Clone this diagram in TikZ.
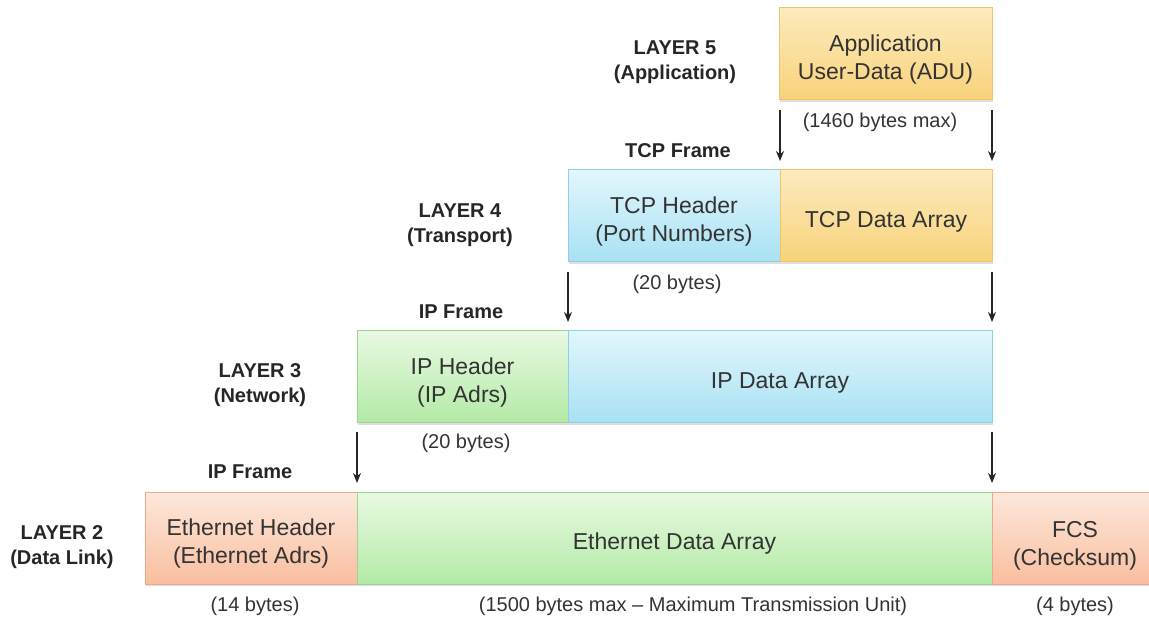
\documentclass[tikz,border=0pt]{standalone}
\usepackage{fontspec}
\setmainfont{Liberation Sans}
\usetikzlibrary{arrows.meta,shadows}
\definecolor{orT}{HTML}{FCEBBE}
\definecolor{orB}{HTML}{F8D27A}
\definecolor{orD}{HTML}{EFC567}
\definecolor{blT}{HTML}{E2F6FC}
\definecolor{blB}{HTML}{A8E1F4}
\definecolor{blD}{HTML}{8CCFE6}
\definecolor{grT}{HTML}{E9F9E3}
\definecolor{grB}{HTML}{B3EAA6}
\definecolor{grD}{HTML}{9BD68E}
\definecolor{saT}{HTML}{FDE8DC}
\definecolor{saB}{HTML}{F9BE9F}
\definecolor{saD}{HTML}{EDA889}
\definecolor{txt}{HTML}{333333}
\tikzset{
  box/.style={rectangle, anchor=north west, inner sep=0pt, outer sep=0pt,
    minimum height=92pt, line width=1pt,
    drop shadow={shadow xshift=1pt, shadow yshift=-2pt, opacity=0.25}},
  orbox/.style={box, draw=orD, top color=orT, bottom color=orB},
  blbox/.style={box, draw=blD, top color=blT, bottom color=blB},
  grbox/.style={box, draw=grD, top color=grT, bottom color=grB},
  sabox/.style={box, draw=saD, top color=saT, bottom color=saB},
  boxtext/.style={align=center, text=txt, inner sep=0pt, font=\fontsize{23}{28}\selectfont},
  layer/.style={align=center, font=\bfseries\fontsize{20}{25.5}\selectfont, text=black!85},
  frame/.style={font=\bfseries\fontsize{20}{22}\selectfont, text=black!85},
  bytes/.style={font=\fontsize{20}{22}\selectfont, text=txt},
  arr/.style={-{Stealth[length=10pt,width=8pt]}, line width=1.4pt, black!85}
}
\newcommand{\boxlabel}[3]{\node[boxtext] (#1) at ([yshift=-5.5pt]#2.center) {#3};}
\begin{document}
\begin{tikzpicture}[x=1pt,y=-1pt]
\useasboundingbox (0,0) rectangle (1149,617);
% Layer 5
\node[orbox, minimum width=213pt] (app) at (779,8) {};
\boxlabel{appt}{app}{Application\\User-Data (ADU)}
\node[layer] (l5) at (675,62) {LAYER 5\\(Application)};
\node[bytes] (b5) at (880,122) {(1460 bytes max)};
\node[frame] (f4) at (678,151) {TCP Frame};
% Layer 4
\node[blbox, minimum width=212pt] (tcph) at (568,170) {};
\node[orbox, minimum width=212pt] (tcpd) at (780,170) {};
\boxlabel{tcpht}{tcph}{TCP Header\\(Port Numbers)}
\boxlabel{tcpdt}{tcpd}{TCP Data Array}
\node[layer] (l4) at (460,225) {LAYER 4\\(Transport)};
\node[bytes] (b4) at (677,284) {(20 bytes)};
\node[frame] (f3) at (461,312) {IP Frame};
% Layer 3
\node[grbox, minimum width=211pt] (iph) at (357,331) {};
\node[blbox, minimum width=424pt] (ipd) at (568,331) {};
\boxlabel{ipht}{iph}{IP Header\\(IP Adrs)}
\boxlabel{ipdt}{ipd}{IP Data Array}
\node[layer] (l3) at (260,385) {LAYER 3\\(Network)};
\node[bytes] (b3) at (466,443) {(20 bytes)};
\node[frame] (f2) at (250,472) {IP Frame};
% Layer 2
\node[sabox, minimum width=212pt] (eth) at (145,492) {};
\node[grbox, minimum width=635pt] (ethd) at (357,492) {};
\node[sabox, minimum width=160pt] (fcs) at (992,492) {};
\boxlabel{etht}{eth}{Ethernet Header\\(Ethernet Adrs)}
\boxlabel{ethdt}{ethd}{Ethernet Data Array}
\node[boxtext] (fcst) at (1075,546) {FCS\\(Checksum)};
\node[layer] (l2) at (62,547) {LAYER 2\\(Data Link)};
\node[bytes] (b2a) at (255,606) {(14 bytes)};
\node[bytes] (b2b) at (693,606) {(1500 bytes max -- Maximum Transmission Unit)};
\node[bytes] (b2c) at (1075,606) {(4 bytes)};
% arrows
\coordinate (s1) at (780,110);
\coordinate (s2) at (992,110);
\coordinate (s3) at (568,272);
\coordinate (s4) at (992,272);
\coordinate (s5) at (357,432);
\coordinate (s6) at (992,432);
\draw[arr] (s1) -- ([yshift=9pt]tcpd.north west);
\draw[arr] (s2) -- ([yshift=9pt]tcpd.north east);
\draw[arr] (s3) -- ([yshift=9pt]ipd.north west);
\draw[arr] (s4) -- ([yshift=9pt]ipd.north east);
\draw[arr] (s5) -- ([yshift=9pt]ethd.north west);
\draw[arr] (s6) -- ([yshift=9pt]ethd.north east);
\end{tikzpicture}
\end{document}
